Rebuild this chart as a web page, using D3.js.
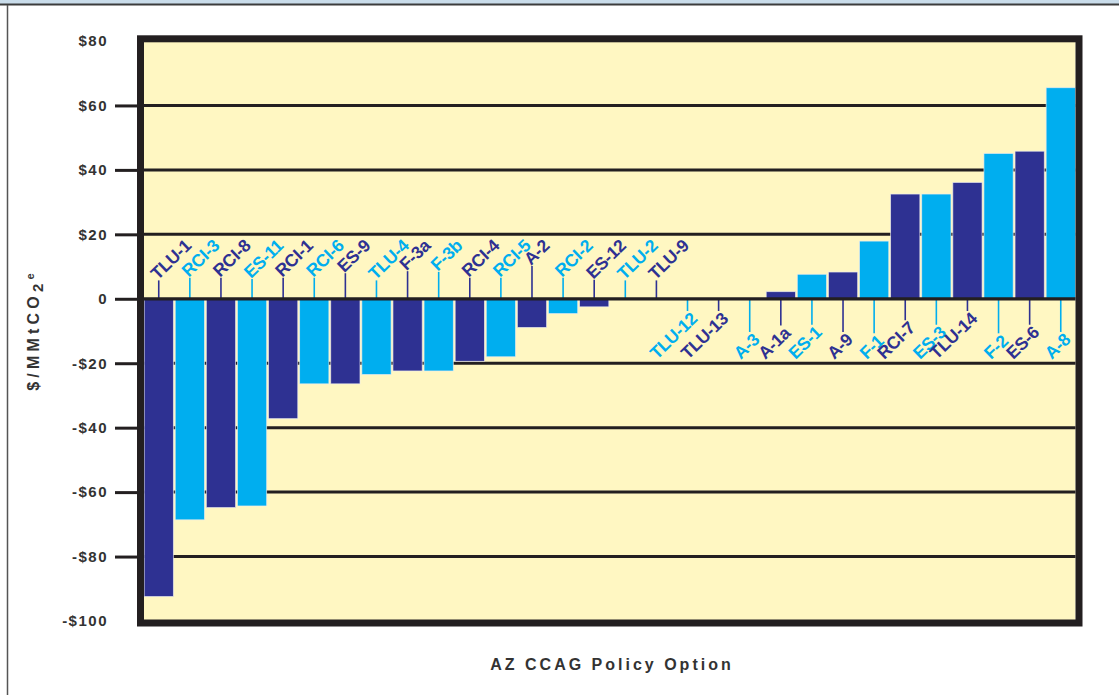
<!DOCTYPE html>
<html>
<head>
<meta charset="utf-8">
<script src="https://cdn.jsdelivr.net/npm/d3@7"></script>
<style>
  html, body { margin: 0; padding: 0; background: #ffffff; }
  svg { display: block; font-family: "Liberation Sans", Arial, Helvetica, sans-serif; }
</style>
</head>
<body>
<svg id="chart" width="1119" height="695"></svg>
<script>
// Policy options, ordered by cost per ton
const categories = ["TLU-1","RCI-3","RCI-8","ES-11","RCI-1","RCI-6","ES-9","TLU-4","F-3a","F-3b",
                    "RCI-4","RCI-5","A-2","RCI-2","ES-12","TLU-2","TLU-9","TLU-12","TLU-13","A-3",
                    "A-1a","ES-1","A-9","F-1","RCI-7","ES-3","TLU-14","F-2","ES-6","A-8"];
// Cost effectiveness, $/MMtCO2e
const costPerTon = [-92.4,-68.6,-64.8,-64.3,-37.2,-26.4,-26.4,-23.5,-22.4,-22.4,
                    -19.4,-18.0,-8.9,-4.6,-2.5,-0.1,-0.1,0.1,0.1,0.1,
                    2.2,7.6,8.3,17.9,32.5,32.5,36.1,45.1,45.8,65.5];
const yTicks = [80, 60, 40, 20, 0, -20, -40, -60, -80, -100];
const gridValues = [60, 40, 20, -20, -40, -60, -80];
const seriesColors = ["#2e3192", "#00aeef"];

const svg = d3.select("#chart");
const W = 1119, H = 695;

// page frame
svg.append("rect").attr("x", 0).attr("y", 0).attr("width", W).attr("height", 4).attr("fill", "#c9dcea");
svg.append("line").attr("x1", 0).attr("x2", W).attr("y1", 4.5).attr("y2", 4.5)
  .attr("stroke", "#3c3c3c").attr("stroke-width", 2);
svg.append("line").attr("x1", 7.5).attr("x2", 7.5).attr("y1", 5).attr("y2", H)
  .attr("stroke", "#555").attr("stroke-width", 1.5);

const x = d3.scaleBand().domain(categories).range([143.5, 1076]).paddingInner(0.06).paddingOuter(0.02);
const y = d3.scaleLinear().domain([-100, 80]).range([621, 41]);

const plotL = 144, plotR = 1075.5;

// plot background
svg.append("rect")
  .attr("x", plotL).attr("y", y(80)).attr("width", plotR - plotL).attr("height", y(-100) - y(80))
  .attr("fill", "#fff7c2");

// horizontal gridlines (behind bars)
svg.append("g").selectAll("line").data(gridValues).join("line")
  .attr("x1", plotL).attr("x2", plotR)
  .attr("y1", d => y(d)).attr("y2", d => y(d))
  .attr("stroke", "#231f20").attr("stroke-width", 3);

// bars
svg.append("g").selectAll("rect").data(costPerTon).join("rect")
  .attr("x", (d, i) => x(categories[i]))
  .attr("width", x.bandwidth())
  .attr("y", d => y(Math.max(0, d)))
  .attr("height", d => Math.abs(y(d) - y(0)))
  .attr("fill", (d, i) => seriesColors[i % 2])
  .attr("stroke", "rgba(235,235,240,0.8)").attr("stroke-width", 0.8);

// category labels with leader lines
const angle = 44;
const theta = angle * Math.PI / 180;
const labelTopRef = 247;     // upper end of labels above the zero line
const labelBottomRef = 360;  // lower start of labels below the zero line
const labelSize = 17.5;
const labels = svg.append("g");
categories.forEach((c, i) => {
  const v = costPerTon[i];
  const cx = x(c) + x.bandwidth() / 2;
  const col = seriesColors[i % 2];
  const g = labels.append("g");
  const leader = g.append("line").attr("stroke", col).attr("stroke-width", 1.6);
  const t = g.append("text")
    .attr("font-size", labelSize).attr("font-weight", "bold")
    .attr("letter-spacing", -0.3)
    .attr("fill", col)
    .text(c);
  const L = t.node().getComputedTextLength();
  if (v < 0) {
    const yStart = Math.min(281, labelTopRef + L * Math.sin(theta));
    t.attr("text-anchor", "start")
      .attr("transform", `translate(${cx - 1},${yStart}) rotate(${-angle})`);
    leader.attr("x1", cx).attr("x2", cx).attr("y1", y(0)).attr("y2", yStart);
  } else {
    const drop = 0.72 * labelSize * Math.cos(theta);
    const yEnd = labelBottomRef - drop - L * Math.sin(theta);
    t.attr("text-anchor", "end").attr("dy", "0.72em")
      .attr("transform", `translate(${cx + 2},${yEnd}) rotate(${-angle})`);
    leader.attr("x1", cx).attr("x2", cx).attr("y1", y(0)).attr("y2", yEnd);
  }
});

// zero line on top of bars
svg.append("line")
  .attr("x1", plotL).attr("x2", plotR).attr("y1", y(0)).attr("y2", y(0))
  .attr("stroke", "#231f20").attr("stroke-width", 3.2);

// heavy plot border
svg.append("rect")
  .attr("x", 140.5).attr("y", y(80) - 2.2)
  .attr("width", 1079 - 140.5).attr("height", (y(-100) + 2) - (y(80) - 2.2))
  .attr("fill", "none").attr("stroke", "#231f20").attr("stroke-width", 7);

// y axis
const fmt = v => v === 0 ? "0" : (v < 0 ? "-$" : "$") + Math.abs(v);
const yAxis = svg.append("g")
  .attr("transform", "translate(137,0)")
  .call(d3.axisLeft(y).tickValues(yTicks).tickFormat(fmt).tickSize(22).tickPadding(7));
yAxis.select(".domain").remove();
yAxis.selectAll(".tick line")
  .attr("stroke", "#231f20").attr("stroke-width", 3)
  .attr("display", d => (d === 80 || d === -100) ? "none" : null);
yAxis.selectAll(".tick text")
  .attr("font-family", "'Liberation Sans', Arial, sans-serif")
  .attr("font-size", 15).attr("font-weight", "bold")
  .attr("letter-spacing", 1.5)
  .attr("fill", "#333");

// y axis title
const yTitle = svg.append("text")
  .attr("transform", "translate(39,330) rotate(-90)")
  .attr("text-anchor", "middle")
  .attr("font-size", 16).attr("font-weight", "bold").attr("letter-spacing", 4.2)
  .attr("fill", "#333");
yTitle.append("tspan").text("$/MMtCO");
yTitle.append("tspan").attr("font-size", 15).attr("dy", 4).text("2");
yTitle.append("tspan").attr("font-size", 11).attr("dy", -9).text("e");

// x axis title
svg.append("text")
  .attr("x", 612).attr("y", 670)
  .attr("text-anchor", "middle")
  .attr("font-size", 16).attr("font-weight", "bold").attr("letter-spacing", 3)
  .attr("fill", "#333")
  .text("AZ CCAG Policy Option");
</script>
</body>
</html>
